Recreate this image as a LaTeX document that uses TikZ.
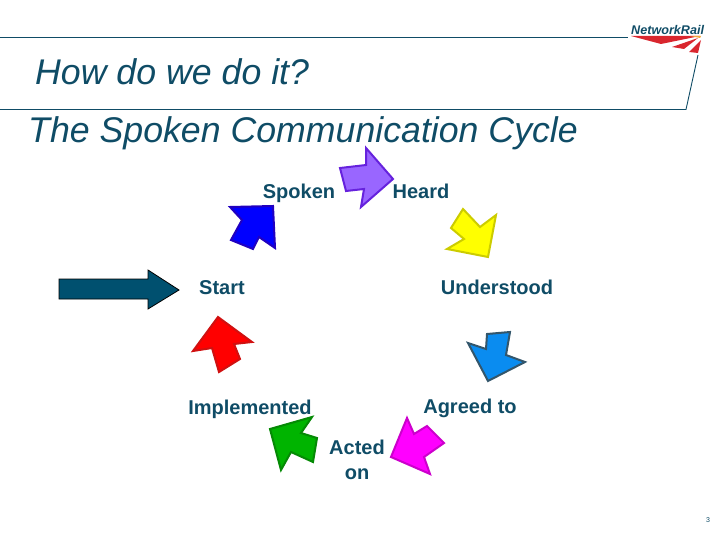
\documentclass[tikz,border=0pt]{standalone}
\usepackage{fontspec}
\setmainfont{Liberation Sans}
\usepackage{xcolor}
\definecolor{Ink}{HTML}{0F4C66}
\definecolor{Navy}{HTML}{00506F}
\definecolor{LogoRed}{HTML}{D9262E}
\definecolor{LogoAmber}{HTML}{F2A93B}
\definecolor{BlueFill}{HTML}{0000FF}
\definecolor{BlueEdge}{HTML}{2000C0}
\definecolor{VioletFill}{HTML}{9966FF}
\definecolor{VioletEdge}{HTML}{6622DD}
\definecolor{YellowFill}{HTML}{FFFF00}
\definecolor{YellowEdge}{HTML}{CCCC00}
\definecolor{SkyFill}{HTML}{0A8CF0}
\definecolor{SkyEdge}{HTML}{33566B}
\definecolor{MagentaFill}{HTML}{FF00FF}
\definecolor{MagentaEdge}{HTML}{CC00CC}
\definecolor{GreenFill}{HTML}{00B400}
\definecolor{GreenEdge}{HTML}{058A05}
\definecolor{RedFill}{HTML}{FF0000}
\definecolor{RedEdge}{HTML}{D01010}
\begin{document}
\begin{tikzpicture}[
    x=1pt,y=-1pt,
    lbl/.style={text=Ink,font=\fontsize{20}{25}\selectfont\bfseries,align=center,inner sep=0pt},
    ttl/.style={text=Ink,font=\fontsize{35.7}{40}\selectfont\itshape,anchor=west,inner sep=0pt},
    a/.style={line width=2pt,line join=miter}
  ]
    \useasboundingbox (0,0) rectangle (720,540);
    % header frame
    \draw[Ink,line width=0.9pt] (0,37) -- (628,37);
    \draw[Ink,line width=0.9pt] (698,55) -- (686,109.5) -- (0,109.5);
    % logo
    \node[ttl,font=\fontsize{12.6}{14}\selectfont\bfseries\itshape] (logo) at (631,30) {NetworkRail};
    \fill[LogoRed] (631,36) -- (700,36) -- (661,44) -- cycle;
    \fill[LogoRed] (672,47) -- (698,38) -- (684,49) -- cycle;
    \fill[LogoRed] (689,52) -- (701,40) -- (698,53) -- cycle;
    \fill[LogoAmber] (690,36) -- (701,36) -- (700,38) -- cycle;
    % titles
    \node[ttl] (head) at (35,72) {How do we do it?};
    \node[ttl] (title) at (28,133.5) {The Spoken Communication Cycle};
    % labels
    \node[lbl] (spoken) at (299,193) {Spoken};
    \node[lbl] (heard) at (421,191) {Heard};
    \node[lbl] (start) at (222,287.5) {Start};
    \node[lbl] (understood) at (497,287) {Understood};
    \node[lbl] (implemented) at (250,409) {Implemented};
    \node[lbl] (agreed) at (470,408) {Agreed to};
    \node[lbl] (acted) at (357,460) {Acted\\on};
    \node[text=Ink,font=\fontsize{7}{8}\selectfont,inner sep=0pt] (page) at (708,520) {3};
    % arrows round the cycle
    \draw[a,draw=black,line width=0.8pt,fill=Navy] (59,279) -- (148,279) -- (148,270) -- (179,290) -- (148,309) -- (148,299) -- (59,299) -- cycle;
    \draw[a,draw=BlueEdge,fill=BlueFill] (273,206) -- (275,248) -- (259,237) -- (253,249) -- (231,240) -- (242,220) -- (230,207) -- cycle;
    \draw[a,draw=VioletEdge,fill=VioletFill] (393,179) -- (366,148) -- (366,165) -- (340,168) -- (346,191) -- (364,189) -- (361,207) -- cycle;
    \draw[a,draw=YellowEdge,fill=YellowFill] (463,209) -- (480,227) -- (496,215) -- (488,257) -- (447,249) -- (464,239) -- (451,228) -- cycle;
    \draw[a,draw=SkyEdge,fill=SkyFill] (487,334) -- (510,332) -- (506,355) -- (525,362) -- (488,381) -- (468,343) -- (486,349) -- cycle;
    \draw[a,draw=MagentaEdge,fill=MagentaFill] (407,418) -- (414,434) -- (427,426) -- (444,443) -- (424,457) -- (430,474) -- (391,457) -- cycle;
    \draw[a,draw=GreenEdge,fill=GreenFill] (312,417) -- (301,433) -- (317,438) -- (313,462) -- (291,452) -- (281,470) -- (270,429) -- cycle;
    \draw[a,draw=RedEdge,fill=RedFill] (218,317) -- (252,342) -- (234,344) -- (240,359) -- (219,372) -- (212,348) -- (193,351) -- cycle;
  \end{tikzpicture}
\end{document}
